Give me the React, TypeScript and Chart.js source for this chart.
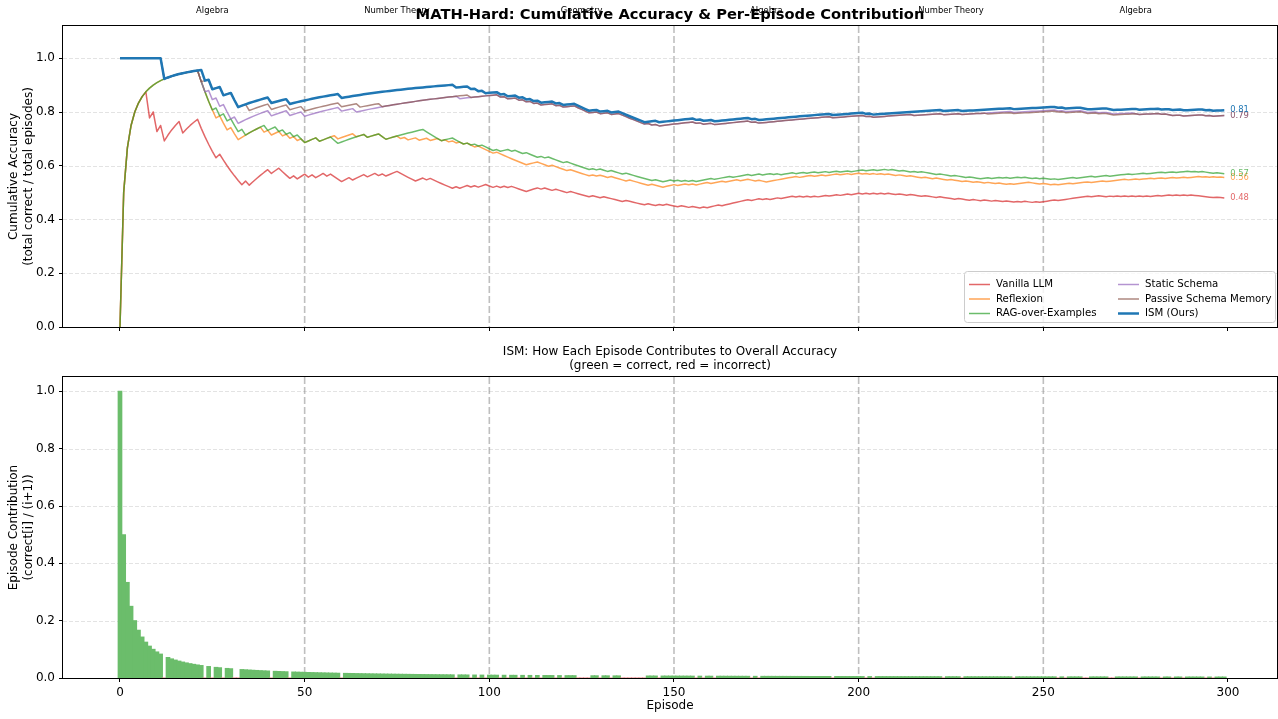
import React, { useEffect, useRef } from "react";
import { Chart, registerables } from "chart.js";

Chart.register(...registerables);

// Per-episode correctness (1 = correct, 0 = incorrect), blocks of 10 episodes (0..299)
const ISM_CORRECT = [
  "1111111111", "1101111111", "1110101101", "1001111111", "1011110111",
  "1111111111", "0111111111", "1111111111", "1111111111", "1011101010",
  "1110101101", "0101011101", "0111000011", "0110110000", "0001110111",
  "1111110101", "1011111111", "1010111111", "1111111111", "1110111111",
  "1101011111", "1111111111", "1110111101", "1111111111", "1101111111",
  "1111010111", "1001111100", "1111110111", "1101101101", "1111010111",
];
const VANILLA_CORRECT = [
  "0111111101", "0101111011", "1100000100", "0000101111", "1011000101",
  "1010110100", "0110111011", "0101110000", "0110100000", "0101101011",
  "0010101000", "0111010010", "0010000010", "0100000100", "0001001010",
  "0010010010", "1110111111", "1011010110", "1110101010", "1101101101",
  "1010101010", "0100100010", "0010000100", "0100100100", "1001010010",
  "1111011111", "1110110010", "1010101010", "1101101010", "1000000100",
];
const REFLEXION_CORRECT = [
  "0111111111", "1111111111", "1100000100", "1001111110", "1011010101",
  "0111011110", "1111011011", "1001110101", "1011011010", "1010100100",
  "0010000000", "0111000100", "0010000010", "1001000010", "0000100011",
  "1011010111", "0111011101", "1001001111", "1111011101", "1011101101",
  "1010101010", "0100100010", "0100010001", "0010010010", "0101111000",
  "1001011101", "1110111011", "1110110111", "0110110110", "1110101010",
];
const RAG_CORRECT = [
  "0111111111", "1111111111", "1100001010", "1001011111", "0110101010",
  "0111011100", "1111111011", "1001111111", "1110000011", "1000101010",
  "0010110100", "1000101000", "0100000010", "1001000100", "0000010011",
  "0101010111", "1011110111", "1011011010", "1110110110", "1101101101",
  "1101101101", "0010010100", "0010001000", "1000110110", "1011010010",
  "1001011110", "1111011101", "1111011101", "1110110111", "0101000100",
];
const STATIC_CORRECT = [
  "1111111111", "1101111111", "1100101010", "0101111111", "1011110111",
  "0111111111", "0111011111", "1111111111", "1111111111", "1101111111",
  "1110101101", "0101011101", "0111000011", "0110110000", "0001010111",
  "1111110101", "1011111111", "1010111111", "1111111111", "1110111111",
  "1101011111", "1111101111", "1110111101", "1111111111", "1101111111",
  "1111010111", "1001101100", "1111100111", "1101001101", "1111010111",
];
const PASSIVE_CORRECT = [
  "1111111111", "1101111111", "1101101101", "1001101111", "1011110111",
  "0111111111", "0111101111", "1011111111", "1111111111", "1111101111",
  "1110101101", "0101011101", "0111000011", "0110110000", "0001010111",
  "1111110101", "1011111111", "1010111111", "1111111111", "1110111111",
  "1101011111", "1111101111", "1110111101", "1111101111", "1101111111",
  "1111010111", "1001101100", "1111110111", "1101001101", "1111010111",
];

const SERIES_LABELS = ["Vanilla LLM", "Reflexion", "RAG-over-Examples", "Static Schema", "Passive Schema Memory", "ISM (Ours)"];
const X_TICKS = [0, 50, 100, 150, 200, 250, 300];
const Y_TICKS_TOP = [0, 0.2, 0.4, 0.6, 0.8, 1.0];
const Y_TICKS_BOTTOM = [0, 0.2, 0.4, 0.6, 0.8, 1.0];
const SECTION_BOUNDS = [50, 100, 150, 200, 250];
const SECTION_CENTERS = [25, 75, 125, 175, 225, 275];
const SECTION_LABELS = ["Algebra", "Number Theory", "Geometry", "Algebra", "Number Theory", "Algebra"];

const TITLE = "MATH-Hard: Cumulative Accuracy & Per-Episode Contribution";
const SUBTITLE = ["ISM: How Each Episode Contributes to Overall Accuracy", "(green = correct, red = incorrect)"];
const Y_TITLE_TOP = ["Cumulative Accuracy", "(total correct / total episodes)"];
const Y_TITLE_BOTTOM = ["Episode Contribution", "(correct[i] / (i+1))"];
const X_TITLE = "Episode";

// ---- styles / layout ----
const FONT = '"DejaVu Sans", sans-serif';
const W = 1278;
const TOP_H = 345;
const BOT_H = 374;
const X_MIN = -15.43;
const X_MAX = 313.27;
const STYLES = [
  { color: "rgba(214,39,40,0.7)", width: 1.5 },
  { color: "rgba(255,127,14,0.7)", width: 1.5 },
  { color: "rgba(44,160,44,0.7)", width: 1.5 },
  { color: "rgba(148,103,189,0.7)", width: 1.5 },
  { color: "rgba(140,86,75,0.7)", width: 1.5 },
  { color: "#1f77b4", width: 2.5 },
];
const BAR_CORRECT = "rgb(107,189,107)";
const BAR_WRONG = "rgb(230,125,126)";

const toBits = (blocks: string[]) => blocks.join("").split("").map((c) => (c === "1" ? 1 : 0));
const cumulative = (b: number[]) => {
  let s = 0;
  return b.map((v, i) => {
    s += v;
    return s / (i + 1);
  });
};

const SERIES_BITS = [VANILLA_CORRECT, REFLEXION_CORRECT, RAG_CORRECT, STATIC_CORRECT, PASSIVE_CORRECT, ISM_CORRECT].map(toBits);
const SERIES_ACC = SERIES_BITS.map(cumulative);
const ISM_BITS = toBits(ISM_CORRECT);

function txt(ctx: any, s: string, x: number, y: number, font: string, color = "#000", align = "center", base = "middle") {
  ctx.font = font;
  ctx.fillStyle = color;
  ctx.textAlign = align;
  ctx.textBaseline = base;
  ctx.fillText(s, x, y);
}

function drawBackground(chart: any, yTicks: number[]) {
  const { ctx, chartArea: a, scales } = chart;
  const x = scales.x;
  const y = scales.y;
  ctx.save();
  ctx.strokeStyle = "rgba(176,176,176,0.35)";
  ctx.lineWidth = 1;
  ctx.setLineDash([4, 2]);
  for (const v of yTicks) {
    const py = Math.round(y.getPixelForValue(v)) + 0.5;
    ctx.beginPath();
    ctx.moveTo(a.left, py);
    ctx.lineTo(a.right, py);
    ctx.stroke();
  }
  ctx.strokeStyle = "rgba(128,128,128,0.5)";
  ctx.lineWidth = 1.6;
  ctx.setLineDash([7, 3]);
  for (const b of SECTION_BOUNDS) {
    const px = x.getPixelForValue(b);
    ctx.beginPath();
    ctx.moveTo(px, a.top);
    ctx.lineTo(px, a.bottom);
    ctx.stroke();
  }
  ctx.restore();
}

function drawFrame(chart: any) {
  const { ctx, chartArea: a } = chart;
  ctx.save();
  ctx.strokeStyle = "#000";
  ctx.lineWidth = 1;
  ctx.setLineDash([]);
  ctx.strokeRect(Math.round(a.left) - 0.5, Math.round(a.top) - 0.5, Math.round(a.right) - Math.round(a.left) + 1, Math.round(a.bottom) - Math.round(a.top) + 1);
  ctx.restore();
}

function drawYTitle(chart: any, lines: string[]) {
  const { ctx, chartArea: a } = chart;
  const cy = (a.top + a.bottom) / 2;
  ctx.save();
  lines.forEach((l, i) => {
    ctx.save();
    ctx.translate(14 + i * 14.5, cy);
    ctx.rotate(-Math.PI / 2);
    txt(ctx, l, 0, 0, `12px ${FONT}`);
    ctx.restore();
  });
  ctx.restore();
}

const topDecor = {
  id: "topDecor",
  beforeDatasetsDraw(chart: any) {
    drawBackground(chart, Y_TICKS_TOP);
  },
  afterDraw(chart: any) {
    const { ctx, chartArea: a, scales } = chart;
    const x = scales.x;
    const y = scales.y;
    drawFrame(chart);
    ctx.save();
    // section labels
    SECTION_CENTERS.forEach((c, i) => txt(ctx, SECTION_LABELS[i], x.getPixelForValue(c), 11, `8.4px ${FONT}`));
    // title
    txt(ctx, TITLE, (a.left + a.right) / 2, 15, `bold 14.7px ${FONT}`);
    drawYTitle(chart, Y_TITLE_TOP);
    // end labels
    SERIES_ACC.forEach((acc, k) => {
      const last = acc[acc.length - 1];
      txt(ctx, last.toFixed(2), x.getPixelForValue(acc.length - 1) + 6, y.getPixelForValue(last), `8.4px ${FONT}`, STYLES[k].color, "left");
    });
    // legend
    const bx = a.right - 313;
    const by = a.bottom - 56;
    const bw = 311;
    const bh = 51;
    ctx.beginPath();
    if (ctx.roundRect) ctx.roundRect(bx + 0.5, by + 0.5, bw, bh, 3);
    else ctx.rect(bx + 0.5, by + 0.5, bw, bh);
    ctx.fillStyle = "rgba(255,255,255,0.8)";
    ctx.fill();
    ctx.strokeStyle = "#cccccc";
    ctx.lineWidth = 1;
    ctx.stroke();
    const colX = [bx + 5, bx + 154];
    const rowY = [by + 13.5, by + 28, by + 42.5];
    SERIES_LABELS.forEach((lab, k) => {
      const cx = colX[Math.floor(k / 3)];
      const ry = rowY[k % 3];
      ctx.strokeStyle = STYLES[k].color;
      ctx.lineWidth = STYLES[k].width;
      ctx.beginPath();
      ctx.moveTo(cx, ry);
      ctx.lineTo(cx + 21, ry);
      ctx.stroke();
      txt(ctx, lab, cx + 27, ry, `10.2px ${FONT}`, "#000", "left");
    });
    ctx.restore();
  },
};

const botDecor = {
  id: "botDecor",
  beforeDatasetsDraw(chart: any) {
    drawBackground(chart, Y_TICKS_BOTTOM);
  },
  afterDraw(chart: any) {
    const { ctx, chartArea: a } = chart;
    drawFrame(chart);
    ctx.save();
    const cx = (a.left + a.right) / 2;
    txt(ctx, SUBTITLE[0], cx, 7, `12px ${FONT}`);
    txt(ctx, SUBTITLE[1], cx, 21, `12px ${FONT}`);
    drawYTitle(chart, Y_TITLE_BOTTOM);
    txt(ctx, X_TITLE, cx, 361, `12px ${FONT}`);
    ctx.restore();
  },
};

const setTicks = (vals: number[]) => (s: any) => {
  s.ticks = vals.map((v) => ({ value: v }));
};

function yScale(max: number, ticks: number[]) {
  return {
    type: "linear",
    min: 0,
    max,
    afterBuildTicks: setTicks(ticks),
    ticks: { color: "#000", font: { family: FONT, size: 12 }, padding: 4, callback: (v: any) => Number(v).toFixed(1) },
    grid: { drawOnChartArea: false, drawTicks: true, tickLength: 4, tickColor: "#000", tickWidth: 1 },
    border: { display: false },
    afterFit: (s: any) => {
      s.width = 63;
    },
  };
}

export default function App() {
  const topRef = useRef<HTMLCanvasElement>(null);
  const botRef = useRef<HTMLCanvasElement>(null);

  useEffect(() => {
    const top = new Chart(topRef.current as HTMLCanvasElement, {
      type: "line",
      data: {
        datasets: SERIES_LABELS.map((label, k) => ({
          label,
          data: SERIES_ACC[k].map((v, i) => ({ x: i, y: v })),
          borderColor: STYLES[k].color,
          backgroundColor: STYLES[k].color,
          borderWidth: STYLES[k].width,
          pointRadius: 0,
          tension: 0,
          fill: false,
          borderJoinStyle: "round",
          order: SERIES_LABELS.length - 1 - k,
        })),
      },
      options: {
        animation: false,
        responsive: false,
        events: [],
        layout: { padding: { top: 26, right: 1, left: 0, bottom: 0 } },
        plugins: { legend: { display: false }, tooltip: { enabled: false } },
        scales: {
          x: {
            type: "linear",
            min: X_MIN,
            max: X_MAX,
            afterBuildTicks: setTicks(X_TICKS),
            ticks: { display: false },
            grid: { drawOnChartArea: false, drawTicks: true, tickLength: 4, tickColor: "#000", tickWidth: 1 },
            border: { display: false },
            afterFit: (s: any) => {
              s.height = 18;
            },
          },
          y: yScale(1.12, Y_TICKS_TOP),
        },
      } as any,
      plugins: [topDecor],
    } as any);

    const bot = new Chart(botRef.current as HTMLCanvasElement, {
      type: "bar",
      data: {
        datasets: [
          {
            label: "contribution",
            data: ISM_BITS.map((c, i) => ({ x: i, y: c / (i + 1) })),
            backgroundColor: ISM_BITS.map((c) => (c ? BAR_CORRECT : BAR_WRONG)),
            borderWidth: 0,
            barPercentage: 1,
            categoryPercentage: 1,
            inflateAmount: 0.5,
          },
        ],
      },
      options: {
        animation: false,
        responsive: false,
        events: [],
        layout: { padding: { top: 32, right: 1, left: 0, bottom: 0 } },
        plugins: { legend: { display: false }, tooltip: { enabled: false } },
        scales: {
          x: {
            type: "linear",
            offset: false,
            min: X_MIN,
            max: X_MAX,
            afterBuildTicks: setTicks(X_TICKS),
            ticks: { color: "#000", font: { family: FONT, size: 12 }, padding: 4, maxRotation: 0, callback: (v: any) => String(v) },
            grid: { drawOnChartArea: false, offset: false, drawTicks: true, tickLength: 4, tickColor: "#000", tickWidth: 1 },
            border: { display: false },
            afterFit: (s: any) => {
              s.height = 41;
            },
          },
          y: yScale(1.05, Y_TICKS_BOTTOM),
        },
      } as any,
      plugins: [botDecor],
    } as any);

    return () => {
      top.destroy();
      bot.destroy();
    };
  }, []);

  return (
    <div style={{ position: "absolute", left: 0, top: 0, width: W, height: TOP_H + BOT_H, background: "#fff" }}>
      <canvas ref={topRef} width={W} height={TOP_H} style={{ position: "absolute", left: 0, top: 0, width: W, height: TOP_H }} />
      <canvas ref={botRef} width={W} height={BOT_H} style={{ position: "absolute", left: 0, top: TOP_H, width: W, height: BOT_H }} />
    </div>
  );
}
